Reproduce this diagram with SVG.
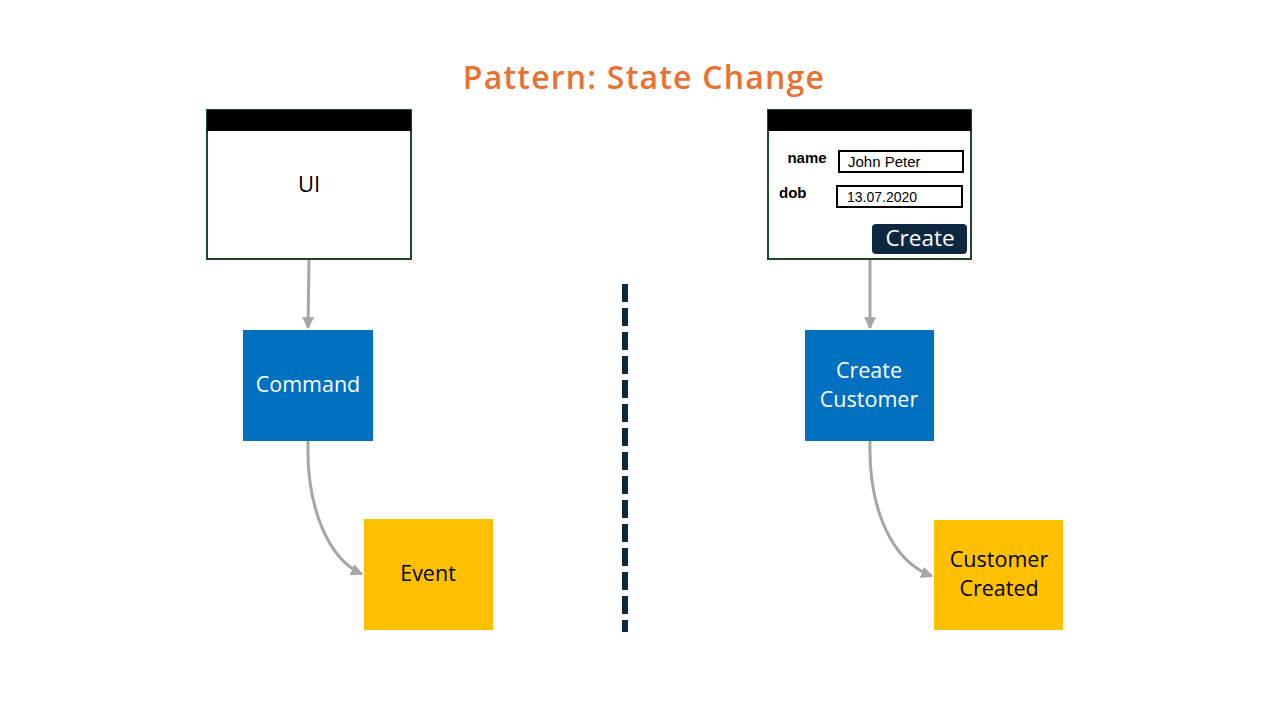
<svg xmlns="http://www.w3.org/2000/svg" width="1280" height="720" viewBox="0 0 1280 720">
<defs>
<style>
.win{fill:#fff;stroke:#1d4a26;stroke-width:2}
.hdr{fill:#000}
.t{font-family:"Open Sans","Liberation Sans",sans-serif}
.f{font-family:"Liberation Sans",Arial,sans-serif;fill:#000}
.cmd{fill:#0070c0}
.evt{fill:#ffc000}
.conn{fill:none;stroke:#a6a6a6;stroke-width:3}
.fld{fill:#fff;stroke:#000;stroke-width:2}
</style>
<marker id="ah" viewBox="0 0 10 10" refX="9" refY="5" markerWidth="4" markerHeight="4" orient="auto" markerUnits="strokeWidth">
<path d="M0,0 L10,5 L0,10 z" fill="#a6a6a6"/>
</marker>
</defs>
<rect width="1280" height="720" fill="#fff"/>
<text x="644" y="89" text-anchor="middle" class="t" font-size="32" font-weight="600" letter-spacing="1.2" fill="#e97132">Pattern: State Change</text>

<g id="ui">
<rect class="win" x="207" y="110" width="204" height="149"/>
<rect class="hdr" x="207" y="110" width="204" height="21"/>
<text x="309" y="192" text-anchor="middle" class="t" font-size="22" fill="#000">UI</text>
</g>

<g id="form">
<rect class="win" x="768" y="110" width="203" height="149"/>
<rect class="hdr" x="768" y="110" width="203" height="21"/>
<text x="807" y="163" text-anchor="middle" class="f" font-size="15" font-weight="bold">name</text>
<rect class="fld" x="839" y="151" width="124" height="21"/>
<text x="848" y="167" class="f" font-size="15">John Peter</text>
<text x="779" y="198" class="f" font-size="15" font-weight="bold">dob</text>
<rect class="fld" x="837" y="186" width="125" height="21"/>
<text x="847" y="202" class="f" font-size="14">13.07.2020</text>
<rect x="872" y="224" width="95" height="30" rx="4" fill="#0e2841"/>
<text x="920" y="246" text-anchor="middle" class="t" font-size="22.5" fill="#fff">Create</text>
</g>

<g id="command">
<rect class="cmd" x="243" y="330" width="130" height="111"/>
<text x="308" y="392" text-anchor="middle" class="t" font-size="21.5" fill="#fff">Command</text>
</g>

<g id="event">
<rect class="evt" x="364" y="519" width="129" height="111"/>
<text x="428" y="581" text-anchor="middle" class="t" font-size="21.5" fill="#000">Event</text>
</g>

<g id="create-customer">
<rect class="cmd" x="805" y="330" width="129" height="111"/>
<text x="869" y="378" text-anchor="middle" class="t" font-size="21.5" fill="#fff">Create</text>
<text x="869" y="407" text-anchor="middle" class="t" font-size="21.5" fill="#fff">Customer</text>
</g>

<g id="customer-created">
<rect class="evt" x="934" y="520" width="129" height="110"/>
<text x="999" y="567" text-anchor="middle" class="t" font-size="21.5" fill="#000">Customer</text>
<text x="999" y="596" text-anchor="middle" class="t" font-size="21.5" fill="#000">Created</text>
</g>

<g id="connectors">
<path class="conn" d="M309,260 L308,328" marker-end="url(#ah)"/>
<path class="conn" d="M870,260 L870,328" marker-end="url(#ah)"/>
<path class="conn" d="M308,441 C306,510 330,560 362,574" marker-end="url(#ah)"/>
<path class="conn" d="M870,441 C868,510 893,562 932,576" marker-end="url(#ah)"/>
</g>

<line id="divider" x1="625" y1="284" x2="625" y2="632" stroke="#0e2841" stroke-width="6" stroke-dasharray="18 6"/>
</svg>
